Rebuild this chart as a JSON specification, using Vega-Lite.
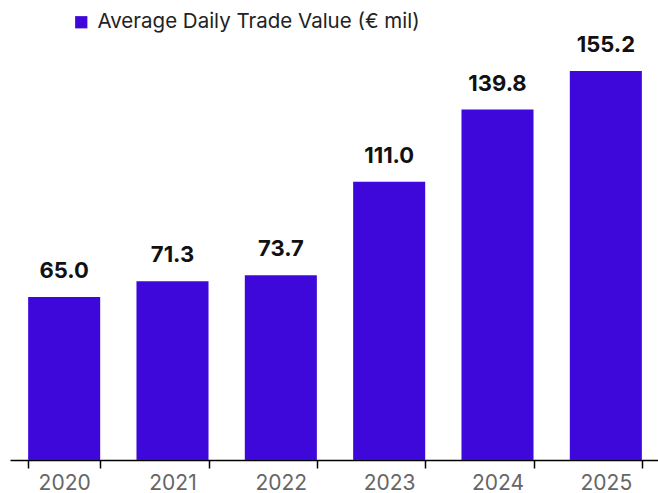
{
  "$schema": "https://vega.github.io/schema/vega-lite/v6.json",
  "width": 648,
  "height": 460,
  "autosize": {"type": "none"},
  "padding": {"left": 10, "top": 0, "right": 0, "bottom": 33},
  "background": "white",
  "config": {"view": {"stroke": null}, "font": "Inter"},
  "data": {
    "values": [
      {"year": "2020", "value": 65.0, "series": "Average Daily Trade Value (€ mil)"},
      {"year": "2021", "value": 71.3, "series": "Average Daily Trade Value (€ mil)"},
      {"year": "2022", "value": 73.7, "series": "Average Daily Trade Value (€ mil)"},
      {"year": "2023", "value": 111.0, "series": "Average Daily Trade Value (€ mil)"},
      {"year": "2024", "value": 139.8, "series": "Average Daily Trade Value (€ mil)"},
      {"year": "2025", "value": 155.2, "series": "Average Daily Trade Value (€ mil)"}
    ]
  },
  "encoding": {
    "x": {
      "field": "year",
      "type": "nominal",
      "sort": null,
      "scale": {"range": [0, 650], "paddingInner": 0.335, "paddingOuter": 0.1675},
      "axis": {
        "title": null,
        "labelAngle": 0,
        "labelFontSize": 21,
        "labelColor": "#666666",
        "labelPadding": 4,
        "tickBand": "extent",
        "tickSize": 8,
        "tickColor": "#000000",
        "tickWidth": 1.5,
        "domainColor": "#000000",
        "domainWidth": 1.5,
        "grid": false
      }
    },
    "y": {
      "field": "value",
      "type": "quantitative",
      "scale": {"domain": [0, 183.5], "nice": false},
      "axis": null
    }
  },
  "layer": [
    {
      "mark": {"type": "bar"},
      "encoding": {
        "color": {
          "field": "series",
          "type": "nominal",
          "scale": {"range": ["#3f08db"]},
          "legend": {
            "title": null,
            "orient": "none",
            "legendX": 61,
            "legendY": 12,
            "symbolType": "square",
            "symbolSize": 150,
            "symbolStrokeWidth": 0,
            "labelFontSize": 20.5,
            "labelColor": "#222222",
            "labelOffset": 6,
            "labelLimit": 500
          }
        }
      }
    },
    {
      "mark": {"type": "text", "baseline": "bottom", "dy": -14, "fontSize": 22, "fontWeight": "bold", "color": "#111111"},
      "encoding": {
        "text": {"field": "value", "type": "quantitative", "format": ".1f"}
      }
    }
  ]
}
